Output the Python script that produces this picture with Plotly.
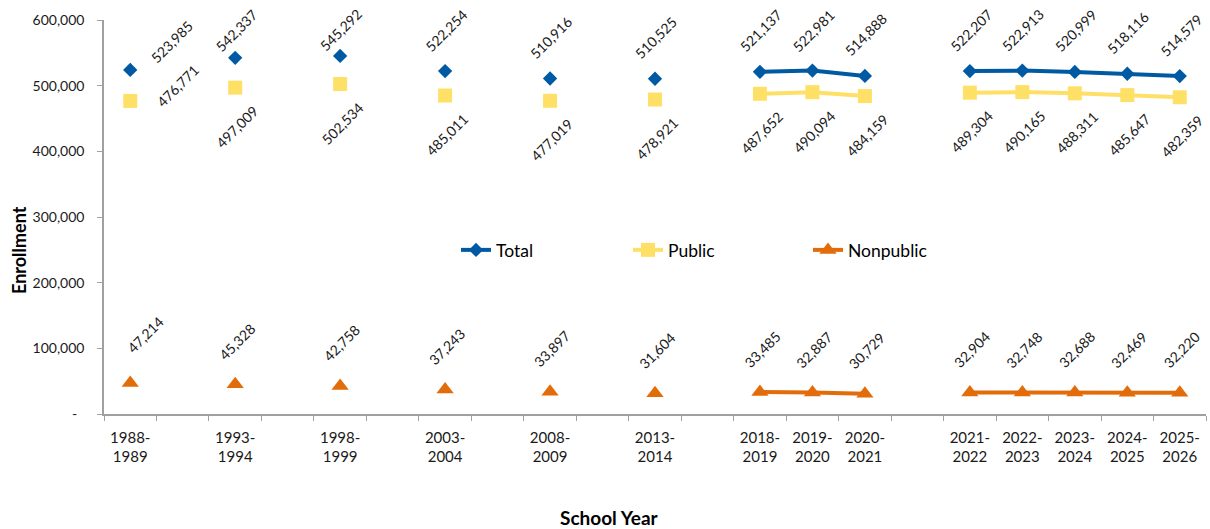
import plotly.graph_objects as go

# ---- data ----
years = ["1988-1989", "1993-1994", "1998-1999", "2003-2004", "2008-2009", "2013-2014",
         "2018-2019", "2019-2020", "2020-2021",
         "2021-2022", "2022-2023", "2023-2024", "2024-2025", "2025-2026"]
total = [523985, 542337, 545292, 522254, 510916, 510525,
         521137, 522981, 514888,
         522207, 522913, 520999, 518116, 514579]
public = [476771, 497009, 502534, 485011, 477019, 478921,
          487652, 490094, 484159,
          489304, 490165, 488311, 485647, 482359]
nonpublic = [47214, 45328, 42758, 37243, 33897, 31604,
             33485, 32887, 30729,
             32904, 32748, 32688, 32469, 32220]
y_ticks = [0, 100000, 200000, 300000, 400000, 500000, 600000]
y_tick_text = ["-&nbsp;&nbsp;", "100,000", "200,000", "300,000", "400,000", "500,000", "600,000"]

# axis slots: blank category slots separate the groups of years
gap_after = {"1988-1989", "1993-1994", "1998-1999", "2003-2004", "2008-2009", "2013-2014", "2020-2021"}
slots = []
blank_n = 0
for yr in years:
    slots.append(yr)
    if yr in gap_after:
        blank_n += 1
        slots.append(" " * blank_n)

def spread(vals):
    m = dict(zip(years, vals))
    return [m.get(s) for s in slots]

COL_T = "#0059A3"
COL_P = "#FFE066"
COL_N = "#E36C0A"

L, R, T, B = 104, 4, 20, 115
W, H = 1210, 529
plot_w = W - L - R
plot_h = H - T - B
YMAX = 600000
FONT = "Lato, Noto Sans, sans-serif"

def ypx(v):
    return T + (YMAX - v) / YMAX * plot_h

fig = go.Figure()
fig.add_trace(go.Scatter(x=slots, y=spread(total), name="Total", mode="lines+markers",
                         line=dict(color=COL_T, width=4),
                         marker=dict(symbol="diamond", size=11, color=COL_T),
                         connectgaps=False, legend="legend"))
fig.add_trace(go.Scatter(x=slots, y=spread(public), name="Public", mode="lines+markers",
                         line=dict(color=COL_P, width=4),
                         marker=dict(symbol="square", size=14, color=COL_P),
                         connectgaps=False, legend="legend2"))
fig.add_trace(go.Scatter(x=slots, y=spread(nonpublic), name="Nonpublic", mode="lines+markers",
                         line=dict(color=COL_N, width=4),
                         marker=dict(symbol="triangle-up", size=15, color=COL_N),
                         connectgaps=False, legend="legend3"))

annos = []
lab_font = dict(family=FONT, size=14, color="#1a1a1a")
for i, yr in enumerate(years):
    # Total labels above
    vt = total[i]
    dx, dy = 1, -41
    if i == 0:
        dx, dy = 42, -28
    cy = max(ypx(vt) + dy, 30)
    annos.append(dict(x=yr, y=vt, text=f"{vt:,}", textangle=-45, showarrow=False,
                      xshift=dx, yshift=ypx(vt) - cy, font=lab_font,
                      xanchor="center", yanchor="middle"))
    # Public labels below
    vp = public[i]
    dx, dy = 2, 39
    if i == 0:
        dx, dy = 48, -15
    annos.append(dict(x=yr, y=vp, text=f"{vp:,}", textangle=-45, showarrow=False,
                      xshift=dx, yshift=-dy, font=lab_font,
                      xanchor="center", yanchor="middle"))
    # Nonpublic labels above
    vn = nonpublic[i]
    dx, dy = 2, -43
    if i == 0:
        dx, dy = 15, -49
    annos.append(dict(x=yr, y=vn, text=f"{vn:,}", textangle=-45, showarrow=False,
                      xshift=dx, yshift=-dy, font=lab_font,
                      xanchor="center", yanchor="middle"))

annos.append(dict(text="<b>School Year</b>", xref="paper", yref="paper",
                  x=(609 - L) / plot_w, y=-(517 - (H - B)) / plot_h,
                  showarrow=False, xanchor="center", yanchor="middle",
                  font=dict(family=FONT, size=19, color="#000")))
annos.append(dict(text="<b>Enrollment</b>", xref="paper", yref="paper",
                  x=-(104 - 19) / plot_w, y=(H - B - 250) / plot_h,
                  showarrow=False, xanchor="center", yanchor="middle", textangle=-90,
                  font=dict(family=FONT, size=18, color="#000")))

tick_text = [s.replace("-", "-<br>") if s.strip() else "" for s in slots]

def leg(px_x):
    return dict(orientation="h", x=(px_x - L) / plot_w, y=(H - B - 250) / plot_h,
                xanchor="left", yanchor="middle", bgcolor="rgba(0,0,0,0)",
                font=dict(size=17.5, family=FONT, color="#000"))

fig.update_layout(
    width=W, height=H,
    margin=dict(l=L, r=R, t=T, b=B, autoexpand=False),
    paper_bgcolor="white", plot_bgcolor="white",
    font=dict(family=FONT, size=14, color="#1a1a1a"),
    showlegend=True,
    legend=leg(456), legend2=leg(628), legend3=leg(808),
    xaxis=dict(type="category", categoryorder="array", categoryarray=slots,
               tickmode="array", tickvals=slots, ticktext=tick_text,
               tickson="boundaries", ticks="outside", ticklen=5, tickcolor="#A0A0A0",
               showline=True, linecolor="#A0A0A0", linewidth=1.5, showgrid=False,
               zeroline=False, range=[-0.5, len(slots) - 0.5], automargin=False,
               ticklabelstandoff=9, tickfont=dict(size=15)),
    yaxis=dict(range=[0, YMAX], tickmode="array", tickvals=y_ticks, ticktext=y_tick_text,
               ticks="outside", ticklen=5, tickcolor="#A0A0A0", automargin=False,
               ticklabelstandoff=10,
               showline=True, linecolor="#A0A0A0", linewidth=1.5, showgrid=False,
               zeroline=False, tickfont=dict(size=14)),
    annotations=annos,
)

fig.write_html("out.html", config={"displayModeBar": False},
               post_script="document.body.style.margin='0';document.body.style.overflow='hidden';")
